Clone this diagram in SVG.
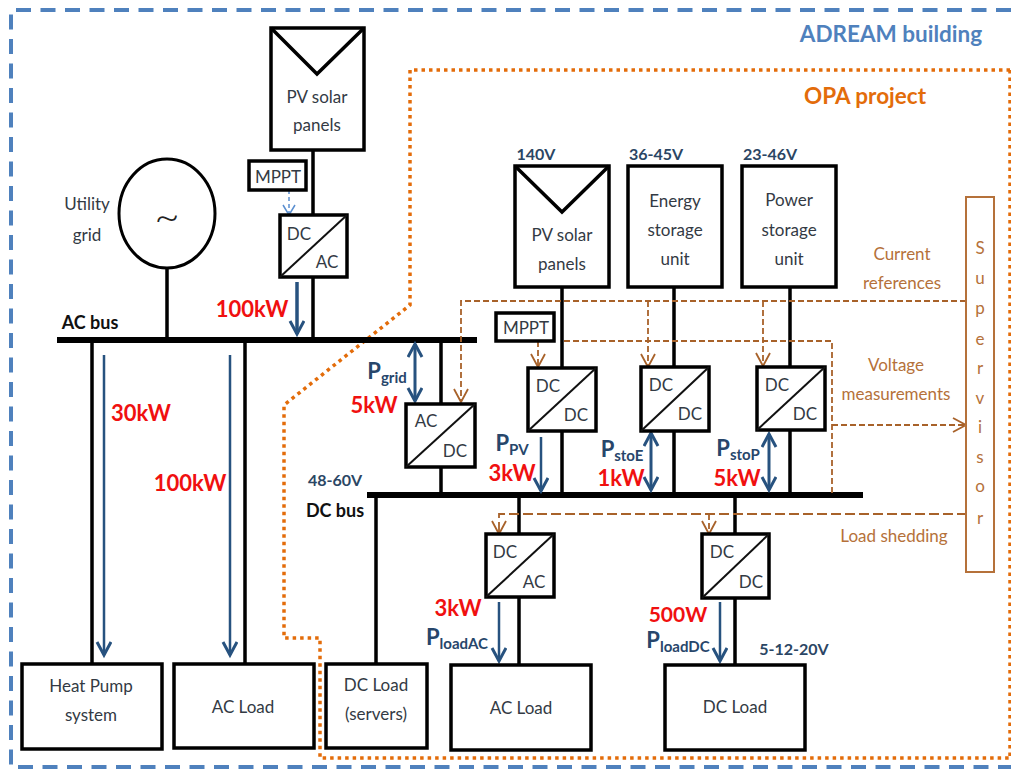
<svg xmlns="http://www.w3.org/2000/svg" width="1011" height="769" viewBox="0 0 1011 769">
<style>
text{font-family:Lato,"Liberation Sans",sans-serif;text-anchor:middle;fill:#333a44;font-size:17px}
.box{fill:#fff;stroke:#000;stroke-width:3.5}
.thin{fill:none;stroke:#111;stroke-width:2}
.w{fill:none;stroke:#000;stroke-width:3.5}
.bus{stroke:#000;stroke-width:6}
.bl{stroke:#27527f;stroke-width:2.5;fill:none}
.ref{stroke:#a8622a;stroke-width:1.8;stroke-dasharray:6 3;fill:none}
.or{fill:#b5713a}
.red{fill:#f01010;font-weight:700;font-size:22px}
.p{fill:#27466b;font-weight:700;font-size:22px}
.p tspan{font-size:15px}
.v{fill:#2b4664;font-weight:700;font-size:16px}
.bk{fill:#111;font-weight:700;font-size:18px}
</style>
<defs>
<marker id="a" markerWidth="18" markerHeight="18" refX="14" refY="8" orient="auto-start-reverse" markerUnits="userSpaceOnUse"><path d="M1 1L14 8L1 15" fill="none" stroke="#27527f" stroke-width="3"/></marker>
<marker id="o" markerWidth="18" markerHeight="18" refX="14" refY="8" orient="auto" markerUnits="userSpaceOnUse"><path d="M1 1L14 8L1 15" fill="none" stroke="#a8622a" stroke-width="1.800"/></marker>
<marker id="l" markerWidth="16" markerHeight="16" refX="11" refY="7" orient="auto" markerUnits="userSpaceOnUse"><path d="M1 1L11 7L1 13" fill="none" stroke="#5b8fd0" stroke-width="1.500"/></marker>
</defs>
<g id="frames">
<path d="M1011 10H11V767H1011" fill="none" stroke="#4f81bd" stroke-width="4" stroke-dasharray="15 9.500"/>
<path d="M1010 70H410V305L284 405V638H320V758H1011M1010 70V758" fill="none" stroke="#e36c0a" stroke-width="3.500" stroke-dasharray="3.500 4"/>
<text x="891" y="42" style="fill:#4f81bd;font-size:22.500px;font-weight:700">ADREAM building</text>
<text x="865" y="104" style="fill:#e36c0a;font-size:22.500px;font-weight:700">OPA project</text>
</g>
<g id="connectors">
<path class="w" d="M313 150V340M167 268V340M92 340V664M245 340V664M441 340V495M562 287V495M674 287V495M790 287V495M376 495V664M519 495V664M735 495V664"/>
<path class="bus" d="M57 340H477M367 495H863"/>
<path class="ref" marker-end="url(#o)" d="M966 301H461V402"/>
<path class="ref" d="M564 341H832V495"/>
<path class="ref" marker-end="url(#o)" d="M648 301V367"/>
<path class="ref" marker-end="url(#o)" d="M763 301V366"/>
<path class="ref" marker-end="url(#o)" d="M538 341V367"/>
<path class="ref" marker-end="url(#o)" d="M832 425H966"/>
<path class="ref" marker-end="url(#o)" d="M967 514H499V534" style="stroke-dasharray:10 4"/>
<path class="ref" marker-end="url(#o)" d="M709 514V534"/>
<path d="M289 190V215" fill="none" stroke="#5b8fd0" stroke-width="1.500" stroke-dasharray="4 3" marker-end="url(#l)"/>
<path class="bl" marker-end="url(#a)" d="M297 282V334" style="stroke-width:3.500"/>
<path class="bl" marker-end="url(#a)" d="M104 355V655"/>
<path class="bl" marker-end="url(#a)" d="M230 355V655"/>
<path class="bl" marker-start="url(#a)" marker-end="url(#a)" d="M415 344V401" style="stroke-width:3"/>
<path class="bl" marker-end="url(#a)" d="M541 437V491"/>
<path class="bl" marker-start="url(#a)" marker-end="url(#a)" d="M651 433V490" style="stroke-width:3"/>
<path class="bl" marker-start="url(#a)" marker-end="url(#a)" d="M769 434V490" style="stroke-width:3"/>
<path class="bl" marker-end="url(#a)" d="M499 602V661"/>
<path class="bl" marker-end="url(#a)" d="M720 602V661"/>
</g>
<g id="pv-left"><rect class="box" x="271" y="28" width="93" height="122"/><path class="w" d="M271 28L317 74L364 28"/><text x="317" y="103">PV solar</text><text x="317" y="131">panels</text></g>
<g id="mppt-left"><rect class="box" x="249" y="161" width="57" height="29"/><text x="278" y="183">MPPT</text></g>
<g id="conv-left"><rect class="box" x="280" y="215" width="67" height="62"/><path class="thin" d="M280 277L347 215"/><text x="299" y="240">DC</text><text x="327" y="268">AC</text></g>
<g id="utility"><ellipse cx="167" cy="213.500" rx="48" ry="54.500" fill="#fff" stroke="#000" stroke-width="3"/><text x="167" y="232" style="font-size:44px;fill:#222;font-weight:300">~</text><text x="87" y="210">Utility</text><text x="87" y="241">grid</text></g>
<g id="heat"><rect class="box" x="22" y="664" width="140" height="85"/><text x="91" y="692">Heat Pump</text><text x="91" y="721">system</text></g>
<g id="acload1"><rect class="box" x="174" y="664" width="140" height="84"/><text x="243" y="713">AC Load</text></g>
<g id="dcservers"><rect class="box" x="326" y="664" width="101" height="84"/><text x="376" y="691">DC Load</text><text x="376" y="720">(servers)</text></g>
<g id="acload2"><rect class="box" x="451" y="665" width="140" height="85"/><text x="521" y="714">AC Load</text></g>
<g id="dcload2"><rect class="box" x="665" y="665" width="140" height="85"/><text x="735" y="713">DC Load</text></g>
<g id="conv-acdc"><rect class="box" x="406" y="404" width="69" height="63"/><path class="thin" d="M406 467L475 404"/><text x="426" y="427">AC</text><text x="455" y="457">DC</text></g>
<g id="pv-right"><rect class="box" x="515" y="166" width="94" height="121"/><path class="w" d="M515 166L562 212L609 166"/><text x="562" y="241">PV solar</text><text x="562" y="270">panels</text></g>
<g id="energy"><rect class="box" x="628" y="166" width="94" height="121"/><text x="675" y="207">Energy</text><text x="675" y="236">storage</text><text x="675" y="265">unit</text></g>
<g id="power"><rect class="box" x="742" y="166" width="94" height="121"/><text x="789" y="206">Power</text><text x="789" y="236">storage</text><text x="789" y="265">unit</text></g>
<g id="mppt-right"><rect class="box" x="496" y="313" width="58" height="28"/><text x="526" y="334">MPPT</text></g>
<g id="conv-pv"><rect class="box" x="528" y="368" width="68" height="63"/><path class="thin" d="M528 431L596 368"/><text x="548" y="392">DC</text><text x="576" y="421">DC</text></g>
<g id="conv-e"><rect class="box" x="641" y="367" width="68" height="64"/><path class="thin" d="M641 431L709 367"/><text x="661" y="391">DC</text><text x="690" y="420">DC</text></g>
<g id="conv-p"><rect class="box" x="757" y="367" width="68" height="63"/><path class="thin" d="M757 430L825 367"/><text x="777" y="391">DC</text><text x="805" y="420">DC</text></g>
<g id="conv-l1"><rect class="box" x="486" y="534" width="68" height="63"/><path class="thin" d="M486 597L554 534"/><text x="505" y="558">DC</text><text x="534" y="588">AC</text></g>
<g id="conv-l2"><rect class="box" x="702" y="534" width="67" height="64"/><path class="thin" d="M702 598L769 534"/><text x="722" y="558">DC</text><text x="751" y="588">DC</text></g>
<g id="supervisor"><rect x="966" y="197" width="28" height="375" fill="#fff" stroke="#b5713a" stroke-width="2"/>
<text class="or" x="980" y="254">S</text><text class="or" x="980" y="284">u</text><text class="or" x="980" y="314">p</text><text class="or" x="980" y="345">e</text><text class="or" x="980" y="374">r</text><text class="or" x="980" y="404">v</text><text class="or" x="980" y="433">i</text><text class="or" x="980" y="463">s</text><text class="or" x="980" y="492">o</text><text class="or" x="980" y="524">r</text></g>
<g id="labels">
<text class="or" x="902" y="260">Current</text><text class="or" x="902" y="289">references</text>
<text class="or" x="896" y="371">Voltage</text><text class="or" x="896" y="400">measurements</text>
<text class="or" x="894" y="542">Load shedding</text>
<text class="bk" x="90" y="329">AC bus</text><text class="bk" x="335" y="517">DC bus</text>
<text class="v" x="335" y="486">48-60V</text><text class="v" x="536" y="160">140V</text><text class="v" x="656" y="160">36-45V</text><text class="v" x="770" y="160">23-46V</text><text class="v" x="794" y="655">5-12-20V</text>
<text class="red" x="252" y="317">100kW</text><text class="red" x="141" y="421">30kW</text><text class="red" x="190" y="491">100kW</text><text class="red" x="374" y="413">5kW</text><text class="red" x="512" y="481">3kW</text><text class="red" x="621" y="486">1kW</text><text class="red" x="737" y="486">5kW</text><text class="red" x="458" y="616">3kW</text><text class="red" x="678" y="622" style="font-size:21px">500W</text>
<text class="p" x="387" y="379">P<tspan dy="4">grid</tspan></text>
<text class="p" x="512" y="451">P<tspan dy="4">PV</tspan></text>
<text class="p" x="622" y="457">P<tspan dy="4">stoE</tspan></text>
<text class="p" x="738" y="456">P<tspan dy="4">stoP</tspan></text>
<text class="p" x="457" y="645">P<tspan dy="4">loadAC</tspan></text>
<text class="p" x="678" y="648">P<tspan dy="4">loadDC</tspan></text>
</g>
</svg>
